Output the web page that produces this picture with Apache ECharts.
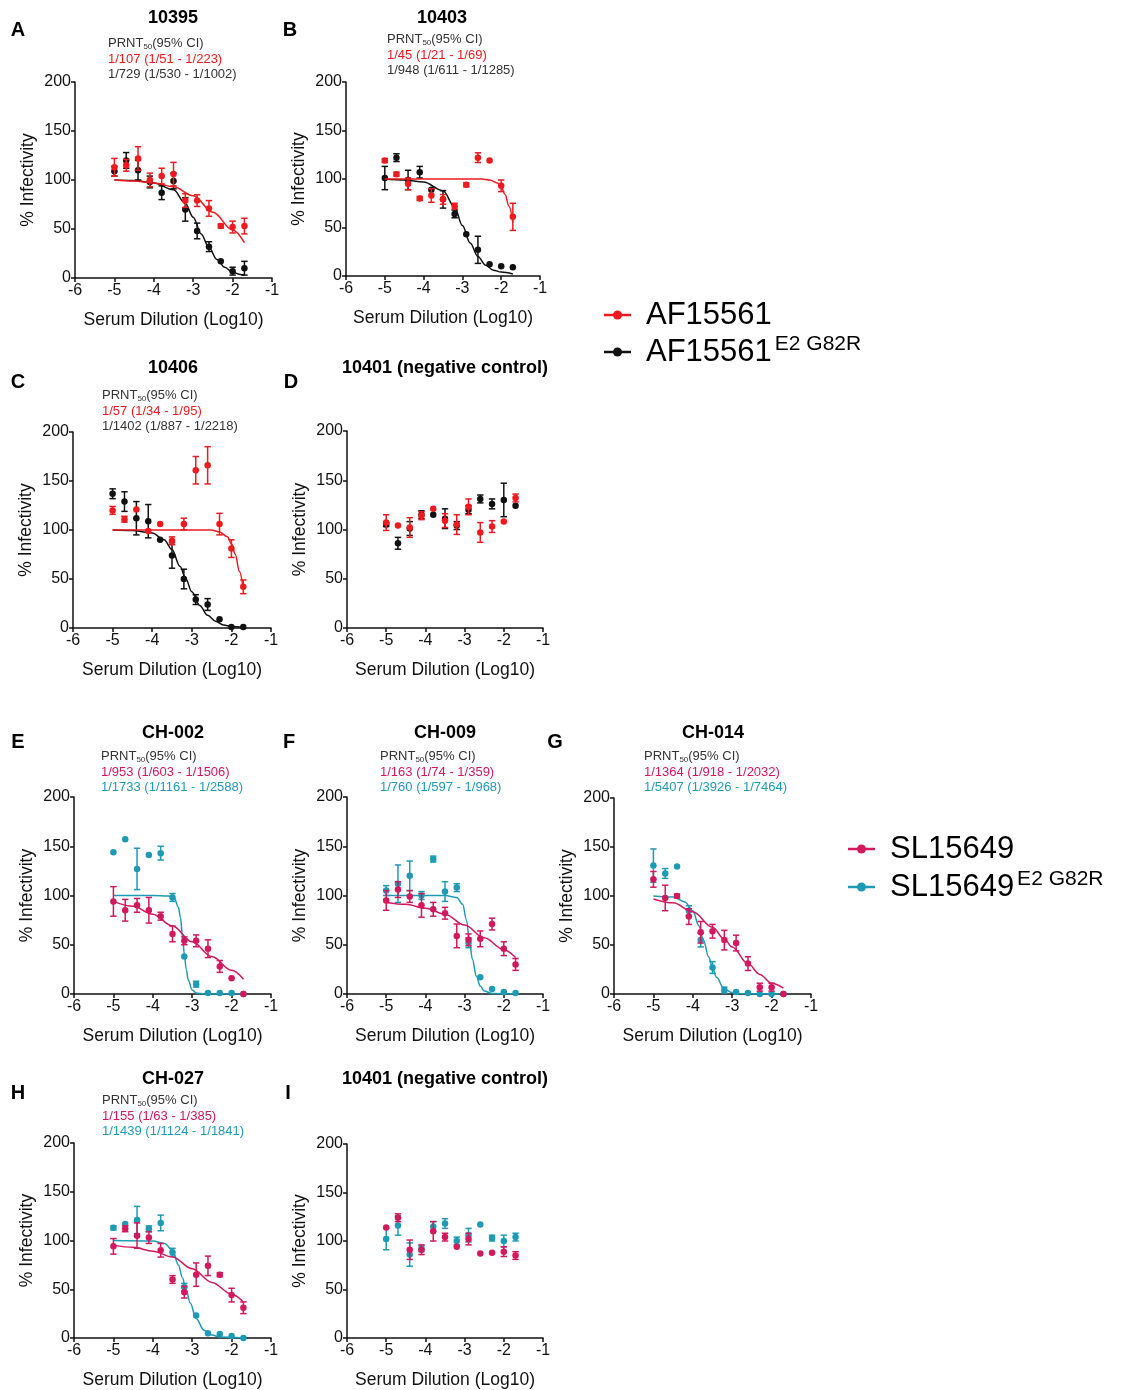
<!DOCTYPE html>
<html><head><meta charset="utf-8">
<script src="https://cdn.jsdelivr.net/npm/echarts@6.0.0/dist/echarts.min.js"></script>
<style>html,body{margin:0;padding:0;background:#fff}#c{width:1121px;height:1390px}</style>
</head><body><div id="c"></div>
<script>
// ---------- data ----------
const dilutions = [-5, -4.7, -4.4, -4.1, -3.8, -3.5, -3.2, -2.9, -2.6, -2.3, -2.0, -1.7];
const xTicks = [-6, -5, -4, -3, -2, -1];
const yTicks = [0, 50, 100, 150, 200];

// Panel A 10395
const A_wt = [113,115,122,100,104,106,79,79,71,53,52,53];
const A_wtErr = [9,6,12,7,8,12,7,6,8,2,6,8];
const A_mut = [109,120,110,98,87,99,70,48,32,17,7,10];
const A_mutErr = [5,8,10,6,7,8,12,8,5,0,4,7];
const A_wtFit = [[-5,100],[-4.5,99],[-4,97],[-3.5,93],[-3,84],[-2.5,67],[-2,49],[-1.7,36]];
const A_mutFit = [[-5,100],[-4.5,99.5],[-4,97],[-3.5,90],[-3.2,76],[-3,62],[-2.8,45],[-2.6,31],[-2.4,19],[-2.2,11],[-2,6],[-1.8,3.5],[-1.7,3]];

// Panel B 10403
const B_wt = [119,105,95,80,83,79,72,94,122,119,93,61];
const B_wtErr = [2,2,6,2,7,5,3,2,5,0,6,14];
const B_mut = [101,122,99,107,89,79,64,43,27,12,10,9];
const B_mutErr = [12,4,10,6,0,9,4,0,14,0,0,0];
const B_wtFit = [[-5,100],[-3,100],[-2.5,100],[-2.3,99],[-2.1,96],[-2.0,92],[-1.9,84],[-1.8,72],[-1.7,55]];
const B_mutFit = [[-5,100],[-4.5,99],[-4,97],[-3.5,88],[-3.2,71],[-3,52],[-2.8,34],[-2.6,20],[-2.4,11],[-2.2,6],[-2,4],[-1.7,2]];

// Panel C 10406
const C_wt = [120,111,121,99,106,89,106,161,166,106,81,42];
const C_wtErr = [4,3,0,0,0,4,6,14,19,11,9,7];
const C_mut = [137,129,112,109,90,74,50,29,24,9,1,1];
const C_mutErr = [5,10,17,17,0,13,10,5,6,0,0,0];
const C_wtFit = [[-5,100],[-3,100],[-2.5,100],[-2.3,98],[-2.1,93],[-2.0,86],[-1.9,75],[-1.8,58],[-1.7,40]];
const C_mutFit = [[-5,100],[-4.5,99.5],[-4,97],[-3.7,90],[-3.5,80],[-3.3,63],[-3.15,50],[-3,37],[-2.8,23],[-2.6,13],[-2.4,7],[-2.2,3],[-2,1.5],[-1.7,0.5]];

// Panel D 10401 (negative control, AF)
const D_wt = [107,104,102,114,121,109,105,123,97,103,108,132];
const D_wtErr = [8,0,10,4,0,7,10,8,10,6,0,4];
const D_mut = [105,86,101,115,115,111,104,120,131,126,130,124];
const D_mutErr = [2,6,7,4,0,10,4,4,4,5,17,0];

// Panel E CH-002
const E_wt = [94,85,90,85,79,61,54,54,46,28,16,0];
const E_wtErr = [15,11,7,13,4,8,4,6,9,6,0,0];
const E_mut = [144,157,127,141,143,98,38,10,1,1,1,0];
const E_mutErr = [0,0,21,0,7,4,0,3,0,0,0,0];
const E_wtFit = [[-5,94],[-4.5,89],[-4,81],[-3.5,69],[-3,53],[-2.5,38],[-2,24],[-1.7,15]];
const E_mutFit = [[-5,100],[-4,100],[-3.6,99.5],[-3.45,97],[-3.35,88],[-3.3,78],[-3.24,57],[-3.2,40],[-3.15,25],[-3.1,14],[-3.0,4],[-2.9,1],[-2.7,0],[-1.7,0]];

// Panel F CH-009
const F_wt = [95,106,99,90,86,82,59,55,56,71,46,30];
const F_wtErr = [10,8,6,12,7,6,12,6,8,6,7,6];
const F_mut = [105,112,120,100,137,104,108,52,17,5,2,1];
const F_mutErr = [5,19,15,4,3,10,4,5,0,0,0,0];
const F_wtFit = [[-5,93],[-4.5,91],[-4,87],[-3.5,81],[-3,70],[-2.5,57],[-2,45],[-1.7,37]];
const F_mutFit = [[-5,100],[-3.5,100],[-3.2,98],[-3.05,91],[-2.95,75],[-2.88,55],[-2.8,35],[-2.7,18],[-2.6,8],[-2.5,3],[-2.3,0.5],[-1.7,0]];

// Panel G CH-014
const G_wt = [117,98,100,79,63,64,55,52,31,7,7,0];
const G_wtErr = [8,13,2,8,11,7,10,8,7,4,4,0];
const G_mut = [131,123,130,85,55,27,4,2,1,0,0,0];
const G_mutErr = [17,5,0,5,7,6,3,0,0,0,0,0];
const G_wtFit = [[-5,97],[-4.5,93],[-4,84],[-3.5,68],[-3.2,56],[-3,48],[-2.6,31],[-2.3,20],[-2,11],[-1.7,6]];
const G_mutFit = [[-5,100],[-4.5,99],[-4.2,94],[-4,85],[-3.85,70],[-3.73,55],[-3.6,38],[-3.5,27],[-3.4,17],[-3.2,5],[-3.0,1.5],[-2.8,0.3],[-1.7,0]];

// Panel H CH-027
const H_wt = [94,112,105,103,90,60,47,65,74,65,44,31];
const H_wtErr = [8,3,13,6,7,4,6,12,10,2,7,6];
const H_mut = [113,117,121,112,118,88,52,23,5,4,2,0];
const H_mutErr = [2,0,14,3,8,4,4,0,0,0,0,0];
const H_wtFit = [[-5,95],[-4.5,93],[-4,89],[-3.5,83],[-3,71],[-2.5,57],[-2,45],[-1.7,37]];
const H_mutFit = [[-5,100],[-4,99.5],[-3.7,97],[-3.5,90],[-3.35,75],[-3.25,62],[-3.16,50],[-3.05,36],[-2.9,20],[-2.7,8],[-2.5,3],[-2.3,1],[-1.7,0]];

// Panel I 10401 (negative control, SL)
const I_wt = [114,124,91,91,110,104,94,102,87,88,89,85];
const I_wtErr = [0,4,10,5,10,4,0,6,0,0,5,4];
const I_mut = [102,116,86,92,115,118,100,106,117,103,100,104];
const I_mutErr = [11,10,12,3,5,5,4,7,0,3,6,4];

const panelLetters = ['A','B','C','D','E','F','G','H','I'];
const panelTitles = ['10395','10403','10406','10401 (negative control)','CH-002','CH-009','CH-014','CH-027','10401 (negative control)'];
const prntWt = ['1/107 (1/51 - 1/223)','1/45 (1/21 - 1/69)','1/57 (1/34 - 1/95)',null,'1/953 (1/603 - 1/1506)','1/163 (1/74 - 1/359)','1/1364 (1/918 - 1/2032)','1/155 (1/63 - 1/385)',null];
const prntMut = ['1/729 (1/530 - 1/1002)','1/948 (1/611 - 1/1285)','1/1402 (1/887 - 1/2218)',null,'1/1733 (1/1161 - 1/2588)','1/760 (1/597 - 1/968)','1/5407 (1/3926 - 1/7464)','1/1439 (1/1124 - 1/1841)',null];
const legendAF = ['AF15561', 'E2 G82R'];
const legendSL = ['SL15649', 'E2 G82R'];

// ---------- styles / layout ----------
const FONT = "'Liberation Sans', Arial, sans-serif";
const RED = '#f0191e', BLACK = '#111111', MAG = '#d3185e', CYAN = '#1d9bb6';
const grids = [
  {left:75, top:82, width:197, height:196},
  {left:346, top:82, width:194, height:194},
  {left:73, top:432, width:198, height:196},
  {left:347, top:431, width:196, height:197},
  {left:74, top:797, width:197, height:197},
  {left:347, top:797, width:196, height:197},
  {left:614, top:798, width:197, height:196},
  {left:74, top:1143, width:197, height:196},
  {left:347, top:1144, width:196, height:196}
];
const letterPos = [[18,30],[290,30],[18,382],[291,382],[18,742],[289,742],[555,742],[18,1093],[288,1093]];
const titlePos = [[173,18],[442,18],[173,368],[445,368],[173,733],[445,733],[713,733],[173,1079],[445,1079]];
const prntPos = [[108,43],[387,39],[102,395],null,[101,756],[380,756],[644,756],[102,1100],null];

const panelData = [
  {wt:A_wt, wtE:A_wtErr, wtF:A_wtFit, mut:A_mut, mutE:A_mutErr, mutF:A_mutFit, c1:RED, c2:BLACK},
  {wt:B_wt, wtE:B_wtErr, wtF:B_wtFit, mut:B_mut, mutE:B_mutErr, mutF:B_mutFit, c1:RED, c2:BLACK},
  {wt:C_wt, wtE:C_wtErr, wtF:C_wtFit, mut:C_mut, mutE:C_mutErr, mutF:C_mutFit, c1:RED, c2:BLACK},
  {wt:D_wt, wtE:D_wtErr, wtF:null, mut:D_mut, mutE:D_mutErr, mutF:null, c1:RED, c2:BLACK},
  {wt:E_wt, wtE:E_wtErr, wtF:E_wtFit, mut:E_mut, mutE:E_mutErr, mutF:E_mutFit, c1:MAG, c2:CYAN},
  {wt:F_wt, wtE:F_wtErr, wtF:F_wtFit, mut:F_mut, mutE:F_mutErr, mutF:F_mutFit, c1:MAG, c2:CYAN},
  {wt:G_wt, wtE:G_wtErr, wtF:G_wtFit, mut:G_mut, mutE:G_mutErr, mutF:G_mutFit, c1:MAG, c2:CYAN},
  {wt:H_wt, wtE:H_wtErr, wtF:H_wtFit, mut:H_mut, mutE:H_mutErr, mutF:H_mutFit, c1:MAG, c2:CYAN},
  {wt:I_wt, wtE:I_wtErr, wtF:null, mut:I_mut, mutE:I_mutErr, mutF:null, c1:MAG, c2:CYAN}
];

function errRender(color) {
  return function (params, api) {
    const x = api.value(0), lo = api.value(1), hi = api.value(2);
    if (hi - lo < 0.5) return {type:'group', children:[]};
    const a = api.coord([x, hi]), b = api.coord([x, lo]);
    const w = 3.2, st = {stroke: color, lineWidth: 1.5};
    return {type:'group', children:[
      {type:'line', shape:{x1:a[0], y1:a[1], x2:b[0], y2:b[1]}, style:st},
      {type:'line', shape:{x1:a[0]-w, y1:a[1], x2:a[0]+w, y2:a[1]}, style:st},
      {type:'line', shape:{x1:b[0]-w, y1:b[1], x2:b[0]+w, y2:b[1]}, style:st}
    ]};
  };
}

const series = [], xAxes = [], yAxes = [], graphics = [];
const axisCommon = {
  axisLine:{show:true, onZero:false, lineStyle:{color:'#111', width:1.5}},
  axisTick:{show:true, length:4, lineStyle:{color:'#111', width:1.5}},
  splitLine:{show:false},
  nameLocation:'middle',
  nameTextStyle:{fontSize:17.5, color:'#111', fontFamily:FONT}
};

function addStrain(gi, vals, errs, fit, color, z) {
  series.push({type:'custom', xAxisIndex:gi, yAxisIndex:gi, renderItem: errRender(color), silent:true, z:z,
    encode:{x:0, y:[1,2]},
    data: dilutions.map((x,i)=>[x, vals[i]-errs[i], vals[i]+errs[i]])});
  series.push({type:'scatter', xAxisIndex:gi, yAxisIndex:gi, symbol:'circle', symbolSize:6.5, z:z+1, silent:true,
    itemStyle:{color:color, opacity:1}, data: dilutions.map((x,i)=>[x, vals[i]])});
  if (fit) series.push({type:'line', xAxisIndex:gi, yAxisIndex:gi, data:fit, smooth:0.35, smoothMonotone:'x',
    symbol:'none', z:z, silent:true, lineStyle:{color:color, width:1.5}});
}

grids.forEach((g, i) => {
  xAxes.push(Object.assign({}, axisCommon, {gridIndex:i, type:'value', min:xTicks[0], max:xTicks[xTicks.length-1], interval:1,
    name:'Serum Dilution (Log10)', nameGap:33,
    axisLabel:{fontSize:16, color:'#111', margin:5, fontFamily:FONT}}));
  yAxes.push(Object.assign({}, axisCommon, {gridIndex:i, type:'value', min:yTicks[0], max:yTicks[yTicks.length-1], interval:50,
    name:'% Infectivity', nameGap:38,
    axisLabel:{fontSize:16, color:'#111', margin:4, fontFamily:FONT}}));
  const p = panelData[i];
  addStrain(i, p.mut, p.mutE, p.mutF, p.c2, 2);
  addStrain(i, p.wt, p.wtE, p.wtF, p.c1, 4);

  graphics.push({type:'text', x:letterPos[i][0], y:letterPos[i][1],
    style:{text:panelLetters[i], font:'bold 20px ' + FONT, fill:'#000', align:'center', verticalAlign:'middle'}});
  graphics.push({type:'text', x:titlePos[i][0], y:titlePos[i][1],
    style:{text:panelTitles[i], font:'bold 18px ' + FONT, fill:'#000', align:'center', verticalAlign:'middle'}});
  if (prntPos[i]) {
    const [px, py] = prntPos[i];
    graphics.push({type:'text', x:px, y:py, style:{text:'{a|PRNT}{s|50}{a|(95% CI)}', align:'left', verticalAlign:'middle',
      rich:{a:{fontSize:13, fontFamily:FONT, fill:'#333', color:'#333', lineHeight:15},
            s:{fontSize:8, fontFamily:FONT, fill:'#333', color:'#333', verticalAlign:'bottom', lineHeight:15}}}});
    graphics.push({type:'text', x:px, y:py+16, style:{text:prntWt[i], font:'13px ' + FONT, fill:p.c1, align:'left', verticalAlign:'middle'}});
    graphics.push({type:'text', x:px, y:py+31.5, style:{text:prntMut[i], font:'13px ' + FONT, fill:p.c2 === BLACK ? '#333' : p.c2, align:'left', verticalAlign:'middle'}});
  }
});

function legendEntry(x0, y, color, label, sup) {
  graphics.push({type:'line', shape:{x1:x0, y1:y, x2:x0+27, y2:y}, style:{stroke:color, lineWidth:2.5}});
  graphics.push({type:'circle', shape:{cx:x0+13.5, cy:y, r:4.5}, style:{fill:color}});
  if (sup) {
    graphics.push({type:'text', x:x0+42, y:y, style:{text:'{a|'+label+'}{s|'+sup+'}', align:'left', verticalAlign:'middle',
      rich:{a:{fontSize:31, fontFamily:FONT, fill:'#000', color:'#000', lineHeight:36},
            s:{fontSize:21, fontFamily:FONT, fill:'#000', color:'#000', verticalAlign:'top', lineHeight:36, padding:[0,0,0,3]}}}});
  } else {
    graphics.push({type:'text', x:x0+42, y:y, style:{text:label, font:'31px ' + FONT, fill:'#000', align:'left', verticalAlign:'middle'}});
  }
}
legendEntry(604, 315, RED, legendAF[0], null);
legendEntry(604, 352, BLACK, legendAF[0], legendAF[1]);
legendEntry(848, 849, MAG, legendSL[0], null);
legendEntry(848, 887, CYAN, legendSL[0], legendSL[1]);

const chart = echarts.init(document.getElementById('c'), null, {renderer:'canvas'});
chart.setOption({
  animation:false,
  backgroundColor:'#fff',
  textStyle:{fontFamily:FONT},
  grid: grids.map(g => Object.assign({containLabel:false}, g)),
  xAxis: xAxes,
  yAxis: yAxes,
  series: series,
  graphic: graphics
});
</script></body></html>
